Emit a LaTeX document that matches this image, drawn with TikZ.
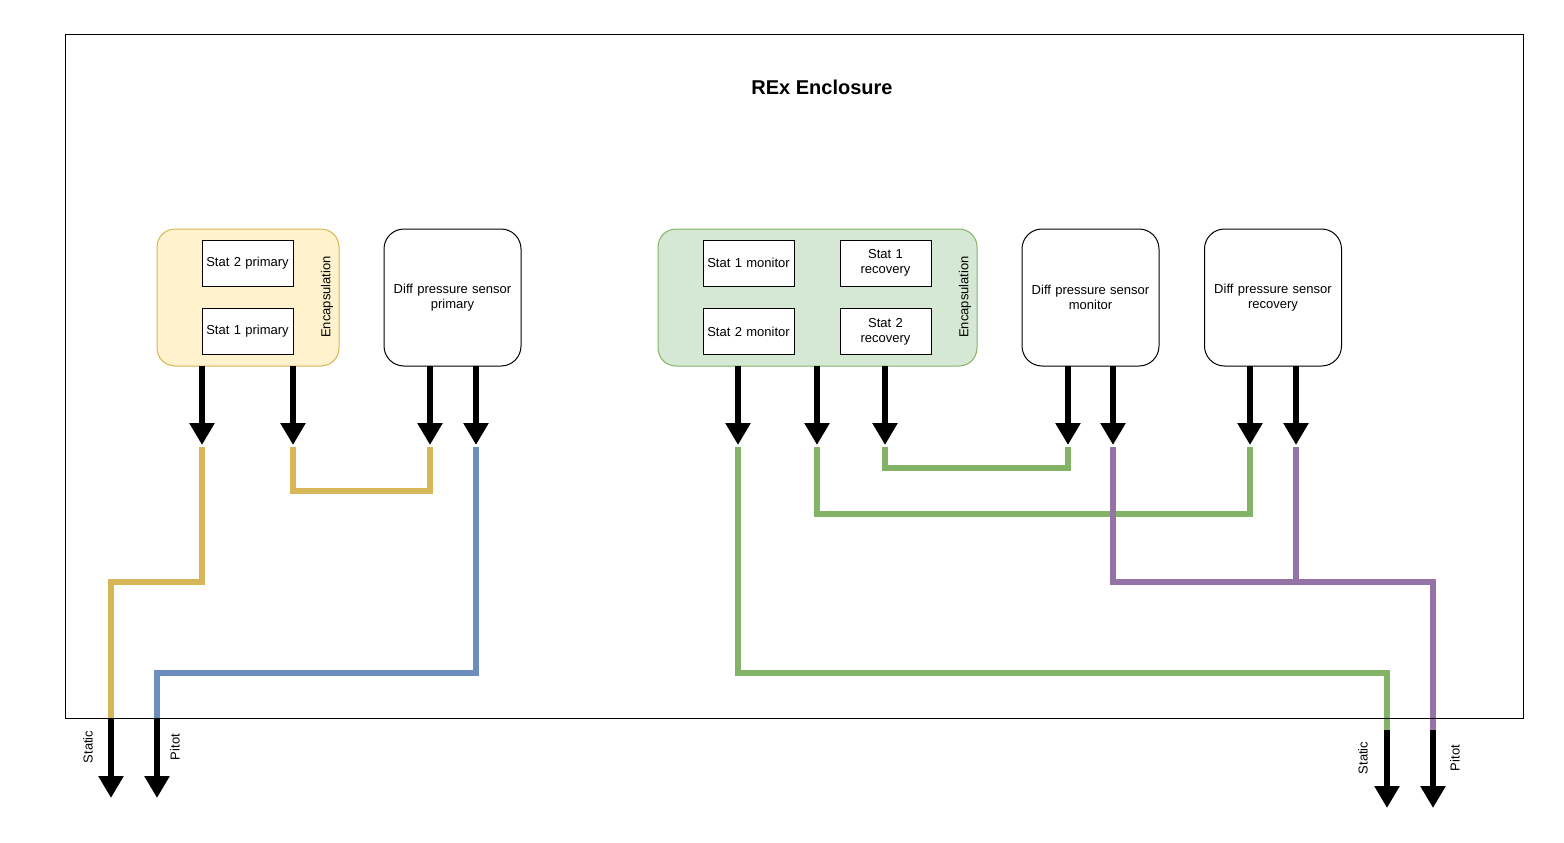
\documentclass[tikz,border=0pt]{standalone}
\usepackage{fontspec}
\setmainfont{Liberation Sans}
\usepackage{tikz}
\usetikzlibrary{arrows.meta,positioning,calc}

\begin{document}
\begin{tikzpicture}[x=1pt, y=-1pt, font=\fontsize{13}{15}\selectfont]

        \useasboundingbox (0,0) rectangle (1564,843);
        \definecolor{encyellow}{HTML}{FFF2CC}
        \definecolor{encyellowline}{HTML}{D6B656}
        \definecolor{encgreen}{HTML}{D5E8D4}
        \definecolor{encgreenline}{HTML}{82B366}
        \definecolor{pipeblue}{HTML}{6C8EBF}
        \definecolor{pipepurple}{HTML}{9673A6}
        \tikzset{
            encbox/.style={draw, line width=1pt, rounded corners=18pt, minimum height=137pt},
            sensor/.style={draw=black, line width=1pt, fill=white, rounded corners=20pt, minimum width=137pt, minimum height=137pt, align=center, text width=130pt},
            statbox/.style={draw=black, line width=1pt, fill=white, minimum width=91pt, minimum height=46pt, align=center, text width=88pt, inner sep=1pt},
            enclabel/.style={rotate=90, align=center},
            portlabel/.style={rotate=90, align=center},
            arrow/.style={-{Triangle[length=22pt, width=24pt]}, line width=6pt, draw=black},
            pipe/.style={line width=6pt, line join=miter}
        }


        \node[font=\bfseries\fontsize{20}{24}\selectfont] (title) at (822, 87) {REx Enclosure};


        \node[encbox, draw=encyellowline, fill=encyellow, minimum width=182pt] (enc_prim) at (248, 297.5) {};
        \node[statbox] (stat2_prim) at (247.5, 263) {Stat 2 primary};
        \node[statbox] (stat1_prim) at (247.5, 331.5) {Stat 1 primary};
        \node[enclabel] (enc_prim_lbl) at (327, 297) {Encapsulation};
        \node[sensor] (diff_prim) at (452.5, 297.5) {Diff pressure sensor\\primary};


        \node[encbox, draw=encgreenline, fill=encgreen, minimum width=319pt] (enc_red) at (817.5, 297.5) {};
        \node[statbox] (stat1_mon) at (748.5, 263) {Stat 1 monitor};
        \node[statbox] (stat2_mon) at (748.5, 331.5) {Stat 2 monitor};
        \node[statbox] (stat1_rec) at (885.5, 263) {Stat 1\\recovery};
        \node[statbox] (stat2_rec) at (885.5, 331.5) {Stat 2\\recovery};
        \node[enclabel] (enc_red_lbl) at (965, 297) {Encapsulation};
        \node[sensor] (diff_mon) at (1090.5, 297.5) {Diff pressure sensor\\monitor};
        \node[sensor] (diff_rec) at (1273, 297.5) {Diff pressure sensor\\recovery};


        % outlets
        \coordinate (s2p_out) at (202, 366);   \coordinate (s2p_in) at (202, 447);
        \coordinate (s1p_out) at (293, 366);   \coordinate (s1p_in) at (293, 447);
        \coordinate (dps_out) at (430, 366);   \coordinate (dps_in) at (430, 447);
        \coordinate (dpp_out) at (476, 366);   \coordinate (dpp_in) at (476, 447);
        \coordinate (s1m_out) at (738, 366);   \coordinate (s1m_in) at (738, 447);
        \coordinate (s2m_out) at (817, 366);   \coordinate (s2m_in) at (817, 447);
        \coordinate (sr_out) at (885, 366);    \coordinate (sr_in) at (885, 447);
        \coordinate (dms_out) at (1068, 366);  \coordinate (dms_in) at (1068, 447);
        \coordinate (dmp_out) at (1113, 366);  \coordinate (dmp_in) at (1113, 447);
        \coordinate (drs_out) at (1250, 366);  \coordinate (drs_in) at (1250, 447);
        \coordinate (drp_out) at (1296, 366);  \coordinate (drp_in) at (1296, 447);

        \coordinate (static_l) at (111, 718);  \coordinate (static_l_end) at (111, 798);
        \coordinate (pitot_l) at (157, 718);   \coordinate (pitot_l_end) at (157, 798);
        \coordinate (static_r) at (1387, 730); \coordinate (static_r_end) at (1387, 808);
        \coordinate (pitot_r) at (1433, 730);  \coordinate (pitot_r_end) at (1433, 808);


        % primary pipes
        \draw[pipe, encyellowline] (s2p_in) -- (202, 582) -| (static_l);
        \draw[pipe, encyellowline] (s1p_in) -- (293, 491) -| (dps_in);
        \draw[pipe, pipeblue] (dpp_in) -- (476, 673) -| (pitot_l);


        % monitor / recovery pipes
        \draw[pipe, encgreenline] (sr_in) -- (885, 468) -| (dms_in);
        \draw[pipe, encgreenline] (s2m_in) -- (817, 514) -| (drs_in);
        \draw[pipe, encgreenline] (s1m_in) -- (738, 673) -| (static_r);
        \draw[pipe, pipepurple] (dmp_in) -- (1113, 582) -| (pitot_r);
        \draw[pipe, pipepurple] (drp_in) -- (1296, 582);


        \draw[line width=1pt] (65, 35) rectangle (1523, 718);


        \foreach \p in {s2p, s1p, dps, dpp, s1m, s2m, sr, dms, dmp, drs, drp}
            \draw[arrow] (\p_out) -- ($(\p_in)+(0,-2)$);

        \draw[arrow] (static_l) -- (static_l_end);
        \draw[arrow] (pitot_l) -- (pitot_l_end);
        \draw[arrow] (static_r) -- (static_r_end);
        \draw[arrow] (pitot_r) -- (pitot_r_end);

        \node[portlabel] (static_l_lbl) at (88, 747) {Static};
        \node[portlabel] (pitot_l_lbl) at (175, 747) {Pitot};
        \node[portlabel] (static_r_lbl) at (1363, 758) {Static};
        \node[portlabel] (pitot_r_lbl) at (1455, 758) {Pitot};

    \end{tikzpicture}
\end{document}
